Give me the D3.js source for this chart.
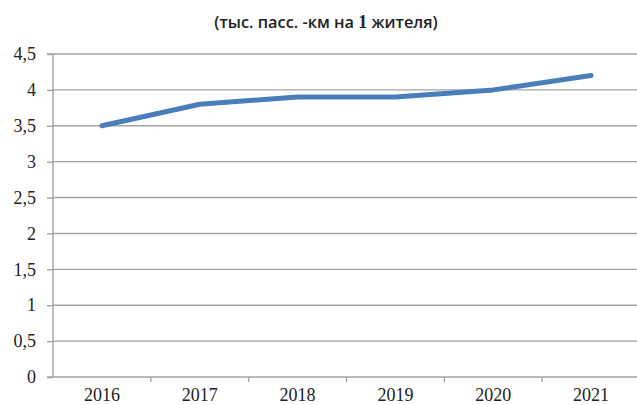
<!DOCTYPE html>
<html><head><meta charset="utf-8">
<script src="https://cdn.jsdelivr.net/npm/d3@7"></script>
<style>body{margin:0;background:#fff}svg{display:block}
.serif{font-family:"Liberation Serif","Times New Roman","DejaVu Serif",serif !important;}
</style>
</head><body>
<svg id="c" width="637" height="405"></svg>
<script>
const categories = ["2016","2017","2018","2019","2020","2021"];
const values = [3.5, 3.8, 3.9, 3.9, 4.0, 4.2];
const yTicks = [0,0.5,1,1.5,2,2.5,3,3.5,4,4.5];
const titleText = "(тыс. пасс. -км на ";
const titleBold = "1";
const titleEnd = " жителя)";

(function(){
const svg = d3.select("#c");
const pLeft = 53, pRight = 640, pTop = 54, pBottom = 377;
const grid = "#a3a3a3";
const x = d3.scaleBand().domain(categories).range([pLeft, pRight]).padding(0);
const y = d3.scaleLinear().domain([0, 4.5]).range([pBottom, pTop]);

// gridlines
svg.append("g").selectAll("line").data(yTicks.filter(d=>d>0)).join("line")
  .attr("x1", pLeft).attr("x2", 637).attr("y1", d=>y(d)).attr("y2", d=>y(d))
  .attr("stroke", grid).attr("stroke-width", 1.4);

// y axis
const yAxis = d3.axisLeft(y).tickValues(yTicks).tickSize(6).tickPadding(11)
  .tickFormat(d => String(d).replace(".", ","));
const gy = svg.append("g").attr("transform", `translate(${pLeft},0)`).call(yAxis);
gy.attr("font-family", null).attr("font-size", null);
gy.select(".domain").attr("stroke", grid).attr("stroke-width", 1.4).attr("d", `M-6,${pTop}H0V${pBottom}H-6`);
gy.selectAll(".tick line").attr("stroke", grid).attr("stroke-width", 1.4);
gy.selectAll(".tick text").attr("class", "serif").style("font-size", "18px").attr("fill", "#222");

// x axis
const xAxis = d3.axisBottom(x).tickSize(0).tickPadding(11);
const gx = svg.append("g").attr("transform", `translate(0,${pBottom})`).call(xAxis);
gx.attr("font-family", null).attr("font-size", null);
gx.select(".domain").attr("stroke", grid).attr("stroke-width", 1.4).attr("d", `M${pLeft},0H637`);
gx.selectAll(".tick text").attr("class", "serif").style("font-size", "18px").attr("fill", "#222");
// boundary ticks
const bounds = categories.map(c => x(c)).concat([x(categories[categories.length-1]) + x.bandwidth()]);
svg.append("g").selectAll("line").data(bounds.slice(1)).join("line")
  .attr("x1", d=>d).attr("x2", d=>d).attr("y1", pBottom).attr("y2", pBottom+5)
  .attr("stroke", grid).attr("stroke-width", 1.4);

// line
const line = d3.line().x((d,i)=>x(categories[i]) + x.bandwidth()/2).y(d=>y(d));
svg.append("path").datum(values).attr("d", line).attr("fill","none")
  .attr("stroke", "#4a7ebb").attr("stroke-width", 5)
  .attr("stroke-linecap","round").attr("stroke-linejoin","round");

// title
const t = svg.append("text").attr("x", 326).attr("y", 28).attr("text-anchor","middle")
  .style("font-family", '"Open Sans","Noto Sans",sans-serif').style("font-size", "16.3px")
  .style("font-weight", 600).attr("fill", "#222");
t.append("tspan").text(titleText);
t.append("tspan").attr("class","serif").style("font-weight",700).style("font-size","18px").text(titleBold);
t.append("tspan").text(titleEnd);
})();
</script>
</body></html>
